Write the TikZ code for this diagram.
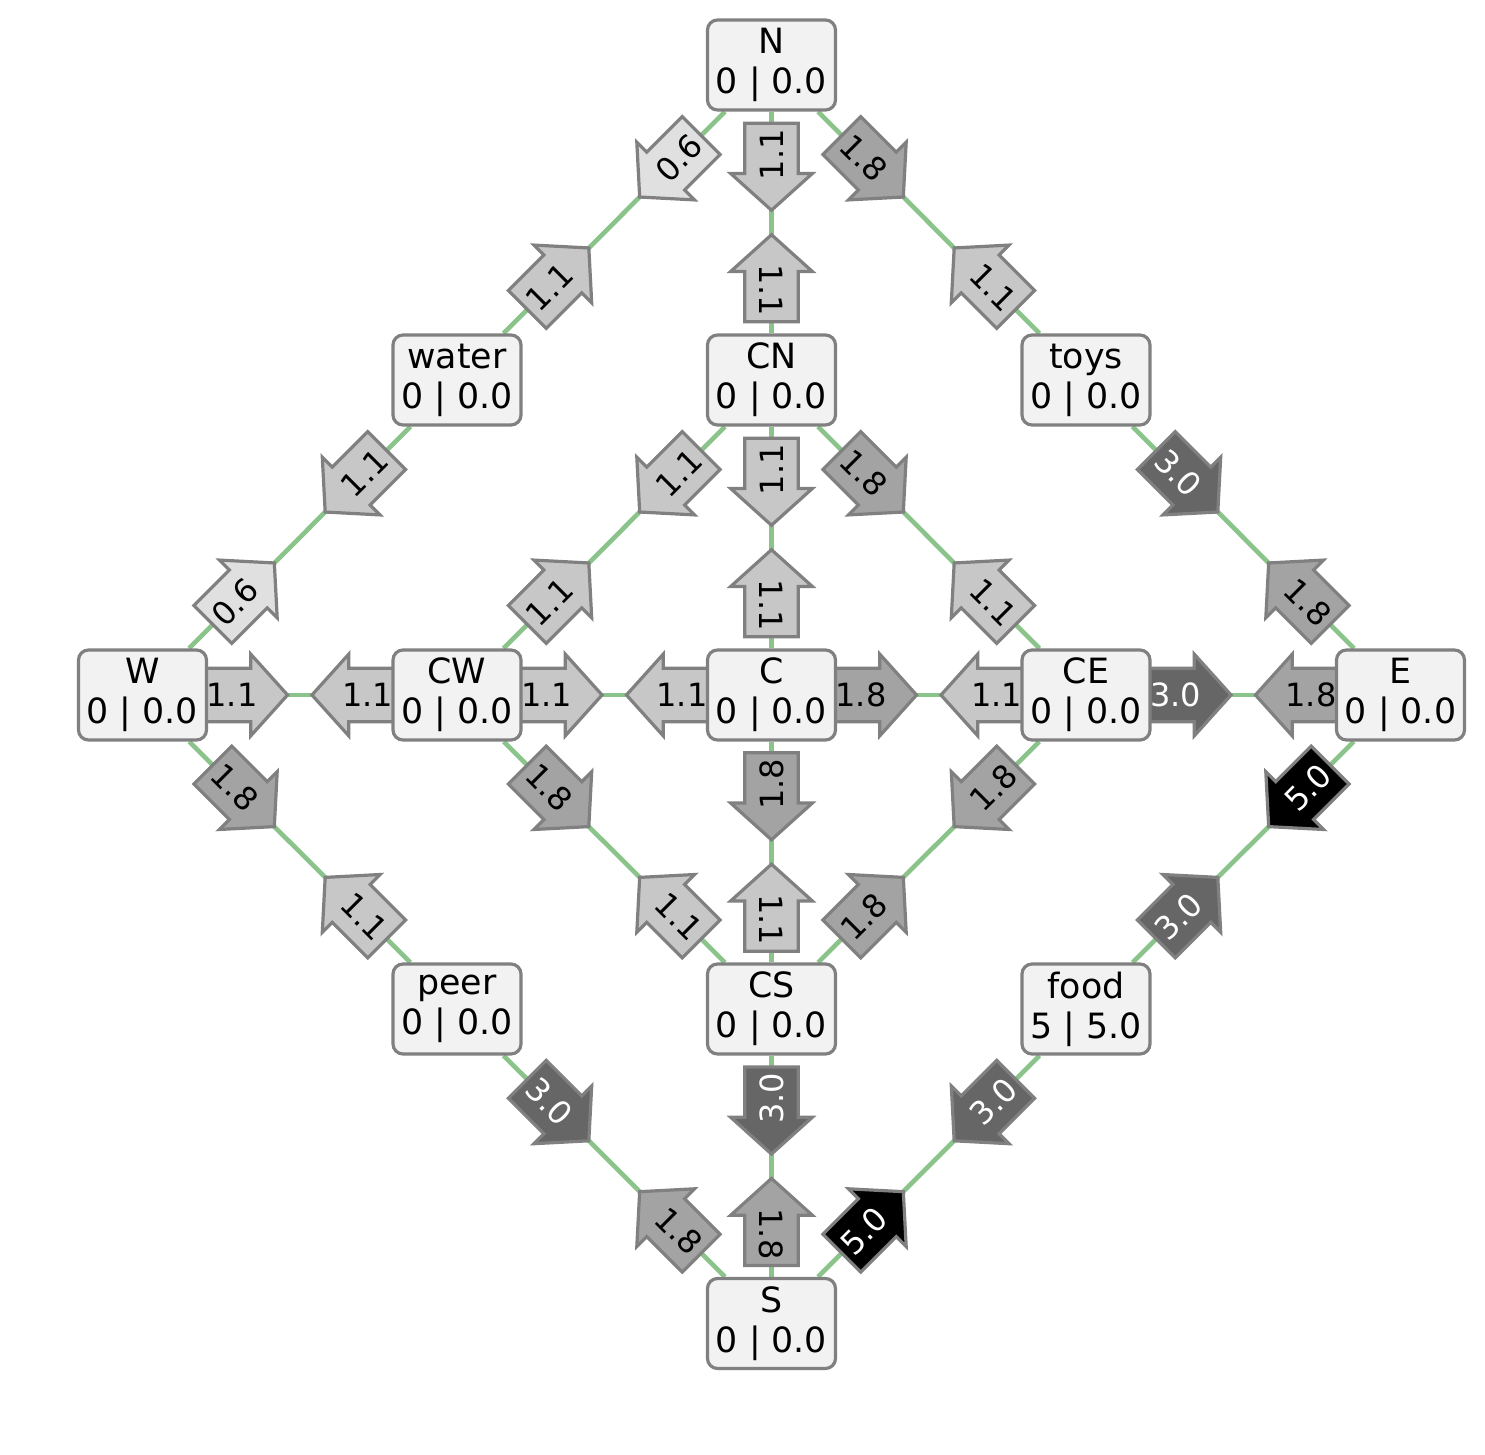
\documentclass[tikz,border=0pt]{standalone}
\usepackage{fontspec}
\setmainfont{DejaVu Sans}
\usetikzlibrary{shapes.arrows,calc}
\pgfdeclarelayer{edgelayer}
\pgfdeclarelayer{arrowlayer}
\pgfsetlayers{edgelayer,arrowlayer,main}
\definecolor{edgegreen}{RGB}{138,196,138}
\definecolor{bordergrey}{RGB}{128,128,128}
\definecolor{nodefill}{RGB}{242,242,242}
\definecolor{fsix}{RGB}{224,224,224}
\definecolor{feleven}{RGB}{199,199,199}
\definecolor{feighteen}{RGB}{163,163,163}
\definecolor{fthirty}{RGB}{102,102,102}
\newcommand{\flowarr}[7]{\node[flowbox,#4,rotate=#5,shape border rotate=#6] (f#1#2) at ($(#1)!#7!(#2)$) {#3};}
\def\hv{0.468}
\def\dg{0.424}
\begin{document}
\begin{tikzpicture}[x=0.5pt,y=-0.5pt,
  place/.style={draw=bordergrey, line width=1.6pt, fill=nodefill, rounded corners=5pt,
    minimum width=64pt, minimum height=45pt, inner sep=2pt, align=center,
    font=\fontsize{17.4}{20}\selectfont},
  link/.style={draw=edgegreen, line width=2.3pt},
  flowbox/.style={single arrow, draw=bordergrey, line width=1.6pt,
    single arrow head extend=7pt, single arrow tip angle=96,
    minimum height=43.5pt, inner xsep=2pt, inner ysep=6.75pt,
    text height=11.7pt, text depth=0pt, font=\fontsize{16}{19}\selectfont, anchor=tip},
  v06/.style={fill=fsix, text=black},
  v11/.style={fill=feleven, text=black},
  v18/.style={fill=feighteen, text=black},
  v30/.style={fill=fthirty, text=white},
  v50/.style={fill=black, text=white}]
\useasboundingbox (0,0) rectangle (1485,1455);
% nodes
\node[place] (N) at (771.5,65) {N\\0 | 0.0};
\node[place] (water) at (457,380) {water\\0 | 0.0};
\node[place] (CN) at (771.5,380) {CN\\0 | 0.0};
\node[place] (toys) at (1086,380) {toys\\0 | 0.0};
\node[place] (W) at (142.5,695) {W\\0 | 0.0};
\node[place] (CW) at (457,695) {CW\\0 | 0.0};
\node[place] (C) at (771.5,695) {C\\0 | 0.0};
\node[place] (CE) at (1086,695) {CE\\0 | 0.0};
\node[place] (E) at (1400.5,695) {E\\0 | 0.0};
\node[place] (peer) at (457,1009) {peer\\0 | 0.0};
\node[place] (CS) at (771.5,1009) {CS\\0 | 0.0};
\node[place] (food) at (1086,1009) {food\\5 | 5.0};
\node[place] (S) at (771.5,1323.5) {S\\0 | 0.0};
% edges
\begin{pgfonlayer}{edgelayer}
\draw[link] (N) -- (water);
\draw[link] (N) -- (CN);
\draw[link] (N) -- (toys);
\draw[link] (water) -- (W);
\draw[link] (CN) -- (CW);
\draw[link] (CN) -- (C);
\draw[link] (CN) -- (CE);
\draw[link] (toys) -- (E);
\draw[link] (W) -- (CW);
\draw[link] (CW) -- (C);
\draw[link] (C) -- (CE);
\draw[link] (CE) -- (E);
\draw[link] (W) -- (peer);
\draw[link] (CW) -- (CS);
\draw[link] (C) -- (CS);
\draw[link] (CE) -- (CS);
\draw[link] (E) -- (food);
\draw[link] (peer) -- (S);
\draw[link] (CS) -- (S);
\draw[link] (food) -- (S);
\end{pgfonlayer}
% flow arrows
\begin{pgfonlayer}{arrowlayer}
\flowarr{N}{water}{0.6}{v06}{45}{180}{\dg}
\flowarr{water}{N}{1.1}{v11}{45}{0}{\dg}
\flowarr{N}{CN}{1.1}{v11}{90}{180}{\hv}
\flowarr{CN}{N}{1.1}{v11}{-90}{180}{\hv}
\flowarr{N}{toys}{1.8}{v18}{-45}{0}{\dg}
\flowarr{toys}{N}{1.1}{v11}{-45}{180}{\dg}
\flowarr{water}{W}{1.1}{v11}{45}{180}{\dg}
\flowarr{W}{water}{0.6}{v06}{45}{0}{\dg}
\flowarr{CN}{CW}{1.1}{v11}{45}{180}{\dg}
\flowarr{CW}{CN}{1.1}{v11}{45}{0}{\dg}
\flowarr{CN}{C}{1.1}{v11}{90}{180}{\hv}
\flowarr{C}{CN}{1.1}{v11}{-90}{180}{\hv}
\flowarr{CN}{CE}{1.8}{v18}{-45}{0}{\dg}
\flowarr{CE}{CN}{1.1}{v11}{-45}{180}{\dg}
\flowarr{toys}{E}{3.0}{v30}{-45}{0}{\dg}
\flowarr{E}{toys}{1.8}{v18}{-45}{180}{\dg}
\flowarr{W}{CW}{1.1}{v11}{0}{0}{\hv}
\flowarr{CW}{W}{1.1}{v11}{0}{180}{\hv}
\flowarr{CW}{C}{1.1}{v11}{0}{0}{\hv}
\flowarr{C}{CW}{1.1}{v11}{0}{180}{\hv}
\flowarr{C}{CE}{1.8}{v18}{0}{0}{\hv}
\flowarr{CE}{C}{1.1}{v11}{0}{180}{\hv}
\flowarr{CE}{E}{3.0}{v30}{0}{0}{\hv}
\flowarr{E}{CE}{1.8}{v18}{0}{180}{\hv}
\flowarr{W}{peer}{1.8}{v18}{-45}{0}{\dg}
\flowarr{peer}{W}{1.1}{v11}{-45}{180}{\dg}
\flowarr{CW}{CS}{1.8}{v18}{-45}{0}{\dg}
\flowarr{CS}{CW}{1.1}{v11}{-45}{180}{\dg}
\flowarr{C}{CS}{1.8}{v18}{90}{180}{\hv}
\flowarr{CS}{C}{1.1}{v11}{-90}{180}{\hv}
\flowarr{CE}{CS}{1.8}{v18}{45}{180}{\dg}
\flowarr{CS}{CE}{1.8}{v18}{45}{0}{\dg}
\flowarr{E}{food}{5.0}{v50}{45}{180}{\dg}
\flowarr{food}{E}{3.0}{v30}{45}{0}{\dg}
\flowarr{peer}{S}{3.0}{v30}{-45}{0}{\dg}
\flowarr{S}{peer}{1.8}{v18}{-45}{180}{\dg}
\flowarr{CS}{S}{3.0}{v30}{90}{180}{\hv}
\flowarr{S}{CS}{1.8}{v18}{-90}{180}{\hv}
\flowarr{food}{S}{3.0}{v30}{45}{180}{\dg}
\flowarr{S}{food}{5.0}{v50}{45}{0}{\dg}
\end{pgfonlayer}
\end{tikzpicture}
\end{document}
